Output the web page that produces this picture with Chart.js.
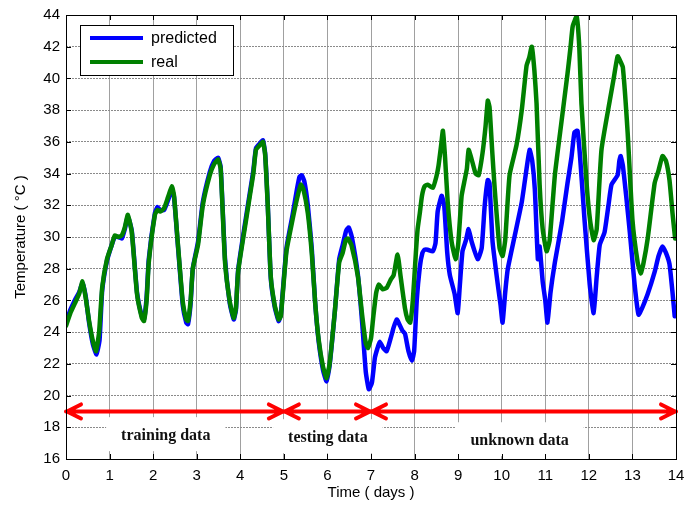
<!DOCTYPE html>
<html>
<head>
<meta charset="utf-8">
<script src="https://cdn.jsdelivr.net/npm/chart.js@4"></script>
<style>
  html, body { margin: 0; padding: 0; background: #fff; }
  #wrap { position: relative; width: 699px; height: 506px; }
</style>
</head>
<body>
<div id="wrap"><canvas id="chart"></canvas></div>
<script>
// Values (time in days, temperature in °C).
const predTime = [0.00,0.10,0.20,0.30,0.38,0.45,0.53,0.62,0.70,0.77,0.83,0.94,1.05,1.12,1.20,1.28,1.35,1.42,1.51,1.63,1.74,1.79,1.85,1.90,2.04,2.10,2.16,2.25,2.34,2.43,2.48,2.57,2.68,2.76,2.80,2.86,2.91,3.03,3.14,3.30,3.40,3.49,3.55,3.65,3.76,3.85,3.90,3.95,4.10,4.22,4.30,4.36,4.45,4.52,4.57,4.63,4.70,4.79,4.88,4.93,5.06,5.20,5.30,5.36,5.41,5.47,5.55,5.64,5.72,5.80,5.90,5.98,6.05,6.17,6.27,6.35,6.43,6.49,6.56,6.70,6.80,6.88,6.95,7.02,7.09,7.15,7.20,7.28,7.36,7.45,7.52,7.59,7.65,7.72,7.78,7.86,7.94,7.99,8.05,8.12,8.18,8.23,8.30,8.42,8.48,8.53,8.62,8.68,8.75,8.81,8.92,8.99,9.04,9.10,9.18,9.24,9.31,9.45,9.54,9.61,9.68,9.72,9.79,9.91,9.97,10.02,10.08,10.14,10.30,10.46,10.57,10.64,10.70,10.76,10.83,10.87,10.94,11.00,11.05,11.12,11.22,11.38,11.51,11.60,11.67,11.74,11.80,11.90,12.02,12.11,12.18,12.25,12.36,12.45,12.52,12.66,12.70,12.73,12.78,12.86,12.94,13.05,13.14,13.22,13.35,13.51,13.60,13.69,13.77,13.85,13.92,13.97];
const predTemp = [24.6,25.4,26.0,26.5,27.1,26.3,24.6,23.2,22.6,23.5,26.6,28.5,29.5,30.0,30.0,29.9,30.5,31.3,30.4,26.5,25.0,24.8,26.2,28.6,31.5,31.9,31.7,31.7,32.3,33.0,32.5,29.4,25.7,24.6,24.5,25.8,28.0,29.7,32.2,34.1,34.8,35.0,34.4,28.6,25.8,24.8,25.4,27.9,30.7,32.8,34.2,35.6,35.9,36.1,35.3,32.1,27.4,25.6,24.7,25.1,29.3,31.4,33.0,33.8,33.9,33.5,32.0,29.3,25.8,23.4,21.6,20.9,21.9,25.3,28.6,29.5,30.4,30.6,30.0,27.6,24.5,21.5,20.4,20.8,22.4,23.0,23.4,23.0,22.8,23.6,24.3,24.8,24.5,24.1,23.9,22.8,22.2,22.8,26.0,28.1,29.0,29.2,29.2,29.1,29.6,31.6,32.6,32.0,29.0,27.6,26.4,25.2,27.0,29.1,29.8,30.5,29.7,28.6,29.3,32.0,33.6,33.4,29.7,27.0,25.8,24.6,26.5,28.0,30.1,32.2,34.3,35.5,34.8,33.0,28.6,29.4,27.2,26.0,24.6,26.5,28.4,30.9,33.4,35.0,36.6,36.7,35.0,31.1,27.0,25.2,27.5,29.5,30.3,32.0,33.3,33.9,34.8,35.1,34.5,32.5,30.3,27.0,25.1,25.5,26.4,27.8,28.8,29.4,29.0,28.3,26.5,25.0];

const realTime = [0.00,0.10,0.20,0.30,0.38,0.45,0.53,0.62,0.69,0.76,0.83,0.94,1.05,1.12,1.20,1.28,1.35,1.42,1.51,1.63,1.74,1.79,1.85,1.90,2.04,2.10,2.16,2.25,2.34,2.43,2.48,2.57,2.68,2.76,2.80,2.86,2.91,3.03,3.14,3.30,3.40,3.49,3.55,3.65,3.76,3.85,3.90,3.95,4.10,4.22,4.30,4.36,4.45,4.52,4.57,4.63,4.70,4.79,4.88,4.93,5.06,5.20,5.30,5.39,5.45,5.55,5.64,5.72,5.80,5.90,5.98,6.05,6.17,6.27,6.35,6.42,6.47,6.55,6.70,6.80,6.88,6.93,7.00,7.05,7.12,7.18,7.27,7.36,7.45,7.52,7.61,7.68,7.78,7.84,7.90,7.96,8.03,8.07,8.12,8.17,8.23,8.30,8.42,8.50,8.55,8.61,8.65,8.70,8.76,8.85,8.94,9.00,9.08,9.15,9.20,9.24,9.31,9.40,9.47,9.56,9.63,9.68,9.72,9.78,9.84,9.95,10.02,10.08,10.18,10.34,10.46,10.57,10.63,10.69,10.75,10.80,10.87,10.94,11.03,11.10,11.22,11.35,11.51,11.58,11.63,11.72,11.78,11.83,11.95,12.03,12.11,12.18,12.29,12.48,12.57,12.66,12.72,12.78,12.89,13.00,13.12,13.19,13.25,13.35,13.51,13.60,13.69,13.77,13.85,13.92,13.98];
const realTemp = [24.4,25.2,25.8,26.4,27.2,26.2,24.7,23.4,22.8,24.0,26.8,28.6,29.5,30.1,30.0,30.1,30.6,31.4,30.3,26.4,24.9,24.7,26.0,28.4,31.4,31.7,31.6,31.8,32.5,33.2,32.6,29.5,25.9,24.8,24.7,26.0,28.0,29.5,32.0,33.9,34.6,34.9,34.3,28.4,25.9,24.9,25.5,27.8,30.5,32.6,34.0,35.5,35.8,36.0,35.2,32.0,27.5,25.7,24.8,25.0,29.1,31.1,32.4,33.3,33.0,31.5,29.0,25.8,23.5,21.8,21.1,22.0,25.3,28.4,29.0,29.8,29.9,29.5,27.5,25.0,23.3,23.0,23.6,24.9,26.5,27.0,26.7,26.8,27.3,27.6,28.9,27.5,25.5,24.8,24.6,26.0,29.0,30.5,31.5,32.6,33.2,33.3,33.1,33.8,34.5,35.8,36.7,35.0,32.2,29.7,28.6,29.5,32.6,33.6,34.3,35.5,34.9,34.0,33.9,35.3,37.0,38.6,38.2,35.5,33.0,29.3,28.8,29.8,33.9,35.8,38.0,40.8,41.3,42.0,40.5,38.4,33.3,30.5,29.1,29.8,33.9,36.8,40.3,42.0,43.3,43.9,42.0,38.4,33.3,31.0,29.8,30.5,35.5,38.6,40.0,41.4,41.1,40.7,36.6,31.1,28.4,27.7,28.3,29.9,33.4,34.2,35.1,34.8,33.6,31.5,29.9];

const xTicks = [0,1,2,3,4,5,6,7,8,9,10,11,12,13,14];
const yTicks = [16,18,20,22,24,26,28,30,32,34,36,38,40,42,44];

// Data-split arrows (start day, end day) at 19 °C, and the label under each span.
const splitLevel = 19;
const splitSpans = [[0, 5], [5, 7], [7, 14]];
const splitLabels = ['training data', 'testing data', 'unknown data'];
const splitLabelX = [2.29, 6.01, 10.41];
const splitLabelY = [17.44, 17.31, 17.12];

const seriesNames = ['predicted', 'real'];
const seriesColors = ['#0000ff', '#008000'];

const toPoints = (xs, ys) => xs.map((x, i) => ({ x, y: ys[i] }));

// MATLAB-style frame with small inward ticks on all four sides
const framePlugin = {
  id: 'frame',
  afterDraw(chart) {
    const { ctx, chartArea: a, scales } = chart;
    ctx.save();
    ctx.strokeStyle = '#000';
    ctx.lineWidth = 1;
    ctx.strokeRect(a.left + 0.5, a.top + 0.5, a.right - a.left, a.bottom - a.top);
    ctx.beginPath();
    xTicks.forEach((t) => {
      const px = Math.round(scales.x.getPixelForValue(t)) + 0.5;
      ctx.moveTo(px, a.bottom); ctx.lineTo(px, a.bottom - 5);
      ctx.moveTo(px, a.top); ctx.lineTo(px, a.top + 5);
    });
    yTicks.forEach((t) => {
      const py = Math.round(scales.y.getPixelForValue(t)) + 0.5;
      ctx.moveTo(a.left, py); ctx.lineTo(a.left + 5, py);
      ctx.moveTo(a.right, py); ctx.lineTo(a.right - 5, py);
    });
    ctx.stroke();
    ctx.restore();
  },
};

const splitPlugin = {
  id: 'splits',
  afterDatasetsDraw(chart) {
    const { ctx, scales } = chart;
    const { x, y } = scales;
    ctx.save();
    // white boxes behind the labels, then the labels
    ctx.font = 'bold 16px "Liberation Serif", "Times New Roman", serif';
    ctx.textAlign = 'center';
    ctx.textBaseline = 'middle';
    splitLabels.forEach((txt, i) => {
      const cx = x.getPixelForValue(splitLabelX[i]);
      const cy = y.getPixelForValue(splitLabelY[i]);
      const w = ctx.measureText(txt).width + 30;
      ctx.fillStyle = '#fff';
      ctx.fillRect(cx - w / 2, cy - 19, w, 34);
      ctx.fillStyle = '#111';
      ctx.fillText(txt, cx, cy);
    });
    // red double-headed arrows
    const py = y.getPixelForValue(splitLevel);
    ctx.strokeStyle = '#ff0000';
    ctx.lineWidth = 4;
    ctx.lineCap = 'round';
    ctx.lineJoin = 'round';
    splitSpans.forEach(([s, e]) => {
      const x0 = x.getPixelForValue(s);
      const x1 = x.getPixelForValue(e);
      ctx.beginPath();
      ctx.moveTo(x0, py); ctx.lineTo(x1, py);
      ctx.moveTo(x0 + 15, py - 7); ctx.lineTo(x0 + 1, py); ctx.lineTo(x0 + 15, py + 7);
      ctx.moveTo(x1 - 15, py - 7); ctx.lineTo(x1 - 1, py); ctx.lineTo(x1 - 15, py + 7);
      ctx.stroke();
    });
    ctx.restore();
  },
};

const legendPlugin = {
  id: 'boxLegend',
  afterDraw(chart) {
    const { ctx, chartArea: a } = chart;
    const left = a.left + 14, top = a.top + 10;
    ctx.save();
    ctx.fillStyle = '#fff';
    ctx.fillRect(left, top, 153, 50);
    ctx.strokeStyle = '#000';
    ctx.lineWidth = 1;
    ctx.strokeRect(left + 0.5, top + 0.5, 153, 50);
    ctx.font = '16px "Liberation Sans", Arial, sans-serif';
    ctx.textBaseline = 'middle';
    seriesNames.forEach((name, i) => {
      const ly = top + 13 + i * 24;
      ctx.strokeStyle = seriesColors[i];
      ctx.lineWidth = 4;
      ctx.beginPath();
      ctx.moveTo(left + 10, ly); ctx.lineTo(left + 63, ly);
      ctx.stroke();
      ctx.fillStyle = '#000';
      ctx.fillText(name, left + 71, ly + 1);
    });
    ctx.restore();
  },
};

const tickFont = { family: '"Liberation Sans", Arial, sans-serif', size: 15 };

function seriesDataset(i, xs, ys, order) {
  return {
    label: seriesNames[i],
    data: toPoints(xs, ys),
    borderColor: seriesColors[i],
    borderWidth: 4.5,
    borderJoinStyle: 'round',
    borderCapStyle: 'round',
    pointRadius: 0,
    tension: 0.15,
    order,
  };
}

new Chart(document.getElementById('chart'), {
  type: 'line',
  data: {
    datasets: [
      seriesDataset(0, predTime, predTemp, 2),
      seriesDataset(1, realTime, realTemp, 1), // real drawn on top
    ],
  },
  options: {
    responsive: true,
    maintainAspectRatio: false,
    animation: false,
    layout: { padding: { top: 11, right: 23, left: 0, bottom: 0 } },
    plugins: { legend: { display: false }, tooltip: { enabled: false } },
    scales: {
      x: {
        type: 'linear',
        min: 0,
        max: 14,
        afterBuildTicks: (s) => { s.ticks = xTicks.map((v) => ({ value: v })); },
        afterFit: (s) => { s.height = 47; },
        ticks: { color: '#000', font: tickFont, padding: 8, maxRotation: 0 },
        grid: { color: '#a0a0a0', lineWidth: 1, drawTicks: false },
        border: { display: false },
        title: {
          display: true,
          text: 'Time ( days )',
          color: '#000',
          font: tickFont,
          padding: { top: 4, bottom: 4 },
        },
      },
      y: {
        min: 16,
        max: 44,
        afterBuildTicks: (s) => { s.ticks = yTicks.map((v) => ({ value: v })); },
        afterFit: (s) => { s.width = 66; },
        ticks: { color: '#000', font: tickFont, padding: 6 },
        grid: { color: '#8a8a8a', lineWidth: 1, drawTicks: false },
        border: { display: false, dash: [2, 1] },
        title: {
          display: true,
          text: 'Temperature ( °C )',
          color: '#000',
          font: tickFont,
          padding: { top: 12, bottom: 0 },
        },
      },
    },
  },
  plugins: [splitPlugin, framePlugin, legendPlugin],
});
</script>
</body>
</html>
